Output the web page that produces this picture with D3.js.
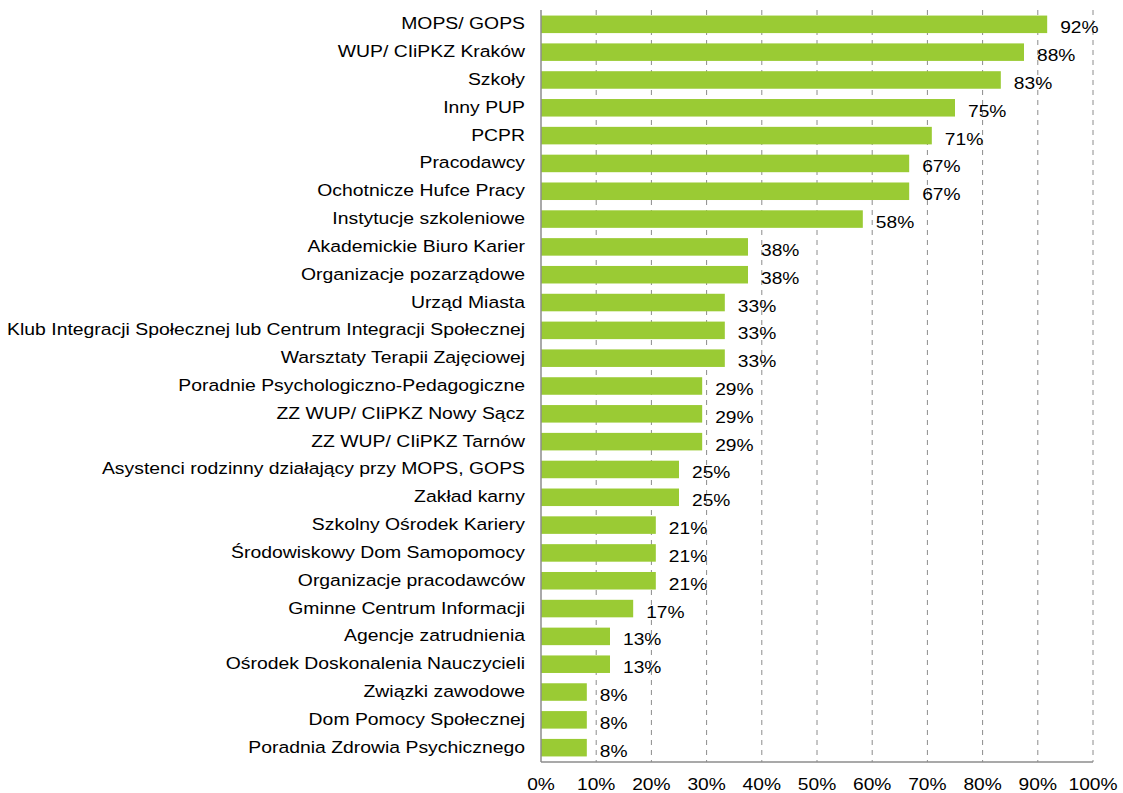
<!DOCTYPE html>
<html>
<head>
<meta charset="utf-8">
<script src="https://cdn.jsdelivr.net/npm/d3@7"></script>
<style>
  body { margin: 0; background: #fff; }
  text { font-family: Arial, "Liberation Sans", sans-serif; fill: #000; }
</style>
</head>
<body>
<div id="chart"></div>
<script>
// categories, top to bottom
let categories = [
    "MOPS/ GOPS",
    "WUP/ CIiPKZ Kraków",
    "Szkoły",
    "Inny PUP",
    "PCPR",
    "Pracodawcy",
    "Ochotnicze Hufce Pracy",
    "Instytucje szkoleniowe",
    "Akademickie Biuro Karier",
    "Organizacje pozarządowe",
    "Urząd Miasta",
    "Klub Integracji Społecznej lub Centrum Integracji Społecznej",
    "Warsztaty Terapii Zajęciowej",
    "Poradnie Psychologiczno-Pedagogiczne",
    "ZZ WUP/ CIiPKZ Nowy Sącz",
    "ZZ WUP/ CIiPKZ Tarnów",
    "Asystenci rodzinny działający przy MOPS, GOPS",
    "Zakład karny",
    "Szkolny Ośrodek Kariery",
    "Środowiskowy Dom Samopomocy",
    "Organizacje pracodawców",
    "Gminne Centrum Informacji",
    "Agencje zatrudnienia",
    "Ośrodek Doskonalenia Nauczycieli",
    "Związki zawodowe",
    "Dom Pomocy Społecznej",
    "Poradnia Zdrowia Psychicznego"
];

// shares
let values = [
    0.917, 0.875, 0.833, 0.75, 0.708, 0.667, 0.667, 0.583, 0.375, 0.375,
    0.333, 0.333, 0.333, 0.292, 0.292, 0.292, 0.25, 0.25, 0.208, 0.208,
    0.208, 0.167, 0.125, 0.125, 0.083, 0.083, 0.083
];

let xTicks = [0, 0.1, 0.2, 0.3, 0.4, 0.5, 0.6, 0.7, 0.8, 0.9, 1];

let data = categories.map(function(c, i) { return { name: c, value: values[i] }; });

let margin = { top: 10, right: 30, bottom: 31, left: 541 };
let totalW = 1123, totalH = 793;
let width = totalW - margin.left - margin.right;
let height = totalH - margin.top - margin.bottom;

let svg = d3.select("#chart")
    .append("svg")
    .attr("width", totalW)
    .attr("height", totalH)
    .append("g")
    .attr("transform", "translate(" + margin.left + "," + margin.top + ")");

let x = d3.scaleLinear().domain([0, 1]).range([0, 552]);
let y = d3.scaleBand().domain(categories).range([0, height]).paddingInner(0.37).paddingOuter(0.2);

let pct = d3.format(".0%");
let stretch = 1.13;

// dashed gridlines
svg.selectAll(".grid")
    .data(xTicks.slice(1))
    .enter().append("line")
    .attr("class", "grid")
    .attr("x1", function(d) { return x(d); })
    .attr("x2", function(d) { return x(d); })
    .attr("y1", 0)
    .attr("y2", height)
    .style("stroke", "#8c8c8c")
    .style("stroke-width", 1)
    .style("stroke-dasharray", "5,5");

// bars
svg.selectAll(".bar")
    .data(data)
    .enter().append("rect")
    .attr("class", "bar")
    .attr("x", 0)
    .attr("y", function(d) { return y(d.name); })
    .attr("width", function(d) { return x(d.value); })
    .attr("height", y.bandwidth())
    .style("fill", "#9acb34");

// axis lines
svg.append("line")
    .attr("x1", 0).attr("x2", 0).attr("y1", 0).attr("y2", height)
    .style("stroke", "#8c8c8c").style("stroke-width", 1.5);
svg.append("line")
    .attr("x1", 0).attr("x2", x(1)).attr("y1", height).attr("y2", height)
    .style("stroke", "#8c8c8c").style("stroke-width", 1.5);

// value labels
svg.selectAll(".val")
    .data(data)
    .enter().append("text")
    .attr("class", "val")
    .attr("transform", function(d) {
        return "translate(" + (x(d.value) + 13) + "," + (y(d.name) + y.bandwidth() / 2 + 9) + ") scale(" + stretch + ",1)";
    })
    .style("font-size", "17px")
    .text(function(d) { return pct(d.value); });

// category labels
svg.selectAll(".cat")
    .data(data)
    .enter().append("text")
    .attr("class", "cat")
    .attr("transform", function(d) {
        return "translate(-16," + (y(d.name) + y.bandwidth() / 2 + 5) + ") scale(1.14,1)";
    })
    .style("text-anchor", "end")
    .style("font-size", "17px")
    .text(function(d) { return d.name; });

// x tick labels
svg.selectAll(".tick-label")
    .data(xTicks)
    .enter().append("text")
    .attr("class", "tick-label")
    .attr("transform", function(d) {
        return "translate(" + x(d) + "," + (height + 28) + ") scale(" + stretch + ",1)";
    })
    .style("text-anchor", "middle")
    .style("font-size", "17px")
    .text(function(d) { return pct(d); });
</script>
</body>
</html>
